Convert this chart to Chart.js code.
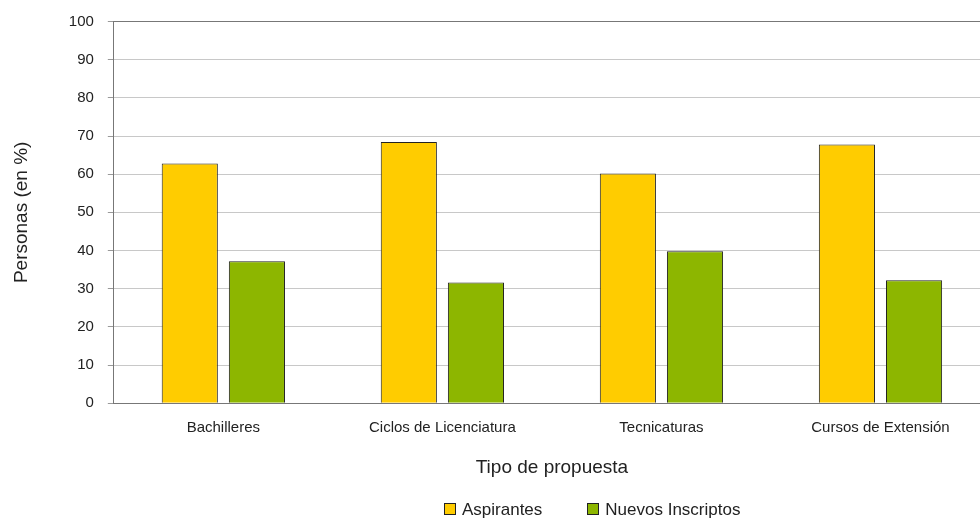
<!DOCTYPE html>
<html>
<head>
<meta charset="utf-8">
<script src="https://cdn.jsdelivr.net/npm/chart.js@4"></script>
<style>
  html, body { margin: 0; padding: 0; background: #fff; overflow: hidden; }
  #wrap { position: relative; width: 990px; height: 523px; }
  #legend { position: absolute; top: 500px; left: 444px; font: 17px "Liberation Sans", Arial, sans-serif; line-height: 20px; color: #222; white-space: nowrap; }
  #legend span.item { margin-right: 45px; }
  #legend span.box { display: inline-block; width: 10px; height: 10px; border: 1px solid #222; margin-right: 6px; vertical-align: 0px; }
</style>
</head>
<body>
<div id="wrap">
  <canvas id="chart"></canvas>
  <div id="legend"></div>
</div>
<script>
// Données
var categories = ['Bachilleres', 'Ciclos de Licenciatura', 'Tecnicaturas', 'Cursos de Extensión'];
var aspirantes = [62.8, 68.4, 60.2, 67.8];
var nuevosInscriptos = [37.2, 31.6, 39.8, 32.2];
var seriesNames = ['Aspirantes', 'Nuevos Inscriptos'];
var seriesColors = ['#ffcc00', '#8db600'];

var canvas = document.getElementById('chart');
canvas.width = 990;
canvas.height = 523;

var chart = new Chart(canvas, {
    type: 'bar',
    data: {
        labels: categories,
        datasets: [
            {
                label: seriesNames[0],
                data: aspirantes,
                backgroundColor: seriesColors[0],
                borderColor: '#222',
                borderWidth: 1,
                categoryPercentage: 0.613,
                barPercentage: 0.836
            },
            {
                label: seriesNames[1],
                data: nuevosInscriptos,
                backgroundColor: seriesColors[1],
                borderColor: '#222',
                borderWidth: 1,
                categoryPercentage: 0.613,
                barPercentage: 0.836
            }
        ]
    },
    options: {
        responsive: false,
        animation: false,
        layout: { padding: { top: 4, left: 10, right: 0, bottom: 44 } },
        plugins: {
            legend: { display: false },
            tooltip: { enabled: false }
        },
        scales: {
            x: {
                grid: { display: false, drawTicks: false },
                border: { color: '#777', width: 1 },
                ticks: {
                    color: '#222',
                    padding: 16,
                    font: { family: 'Liberation Sans', size: 15 },
                    maxRotation: 0
                },
                title: {
                    display: true,
                    text: 'Tipo de propuesta',
                    color: '#222',
                    font: { family: 'Liberation Sans', size: 19 },
                    padding: { top: 3, bottom: 0 }
                }
            },
            y: {
                min: 0,
                max: 100,
                ticks: {
                    stepSize: 10,
                    color: '#222',
                    padding: 14,
                    font: { family: 'Liberation Sans', size: 15, lineHeight: 1 }
                },
                grid: {
                    color: function (ctx) { return ctx.tick && ctx.tick.value === 100 ? '#777' : '#c8c8c8'; },
                    tickLength: 6,
                    tickColor: '#999'
                },
                border: { color: '#777', width: 1 },
                title: {
                    display: true,
                    text: 'Personas (en %)',
                    color: '#222',
                    font: { family: 'Liberation Sans', size: 19 },
                    padding: { top: 0, bottom: 22 }
                }
            }
        }
    }
});

// Légende en HTML
var legendDiv = document.getElementById('legend');
seriesNames.forEach(function (name, i) {
    var item = document.createElement('span');
    item.className = 'item';
    item.innerHTML = '<span class="box" style="background:' + seriesColors[i] + '"></span>' + name;
    legendDiv.appendChild(item);
});
</script>
</body>
</html>
